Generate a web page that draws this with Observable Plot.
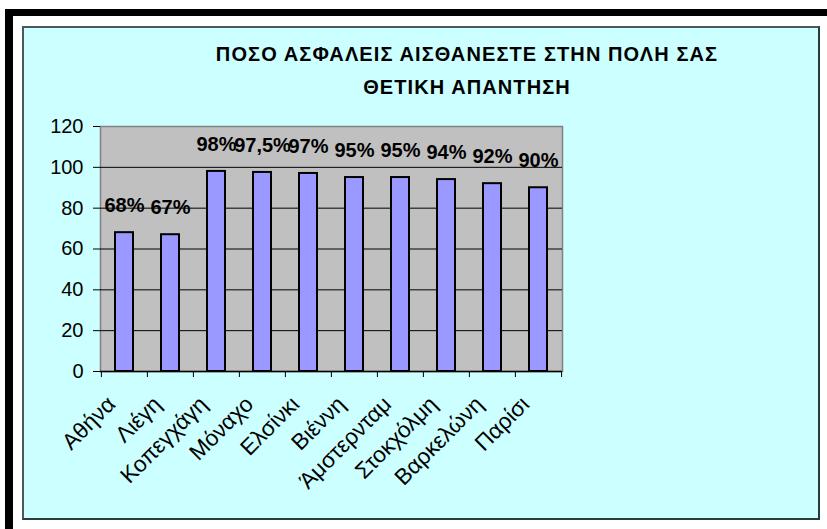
<!DOCTYPE html>
<html>
<head>
<meta charset="utf-8">
<script src="https://cdn.jsdelivr.net/npm/d3@7"></script>
<script src="https://cdn.jsdelivr.net/npm/@observablehq/plot@0.6"></script>
<style>
  html, body { margin: 0; padding: 0; background: #ffffff; }
  #page { position: relative; width: 827px; height: 529px; overflow: hidden; font-family: "Liberation Sans", Arial, sans-serif; }
  .bar { position: absolute; background: #000; }
  #panel { position: absolute; left: 22px; top: 26px; width: 794px; height: 490px; background: #ccffff; border: 2px solid #2b3a3a; border-top-color: #4a5a5a; border-left-color: #4a5a5a; }
  #title { position: absolute; left: 167px; width: 600px; top: 38px; text-align: center; font-weight: bold; font-size: 20px; letter-spacing: 1.1px; line-height: 33px; color: #000; }
  #chart { position: absolute; left: 0; top: 100px; }
</style>
</head>
<body>
<div id="page">
  <div class="bar" style="left:5px;top:9px;width:822px;height:7px"></div>
  <div class="bar" style="left:5px;top:9px;width:8px;height:520px"></div>
  <div id="panel"></div>
  <div id="title">ΠΟΣΟ ΑΣΦΑΛΕΙΣ ΑΙΣΘΑΝΕΣΤΕ ΣΤΗΝ ΠΟΛΗ ΣΑΣ<br>ΘΕΤΙΚΗ ΑΠΑΝΤΗΣΗ</div>
  <div id="chart"></div>
</div>
<script>
// Share of residents who feel safe in their city (positive answers, %)
const cities = ["Αθήνα", "Λιέγη", "Κοπεγχάγη", "Μόναχο", "Ελσίνκι", "Βιέννη", "Άμστερνταμ", "Στοκχόλμη", "Βαρκελώνη", "Παρίσι"];
const values = [68, 67, 98, 97.5, 97, 95, 95, 94, 92, 90];
const yTicks = [0, 20, 40, 60, 80, 100, 120];

const data = cities.map((city, i) => ({city, value: values[i]}));
const pct = v => String(v).replace(".", ",") + "%";

const width = 827, height = 410;
const marginLeft = 100, marginRight = 265, marginTop = 26, marginBottom = 139;
const step = (width - marginLeft - marginRight) / cities.length;

const chart = Plot.plot({
  width, height, marginLeft, marginRight, marginTop, marginBottom,
  style: {background: "transparent", fontFamily: "'Liberation Sans', Arial, sans-serif", color: "#000"},
  x: {domain: cities, paddingInner: 0.61, paddingOuter: 0.305, label: null},
  y: {domain: [0, 120], label: null},
  marks: [
    Plot.frame({fill: "#c0c0c0", stroke: "#808080", strokeWidth: 1.5}),
    Plot.gridY([20, 40, 60, 80, 100], {stroke: "#000", strokeOpacity: 1, strokeWidth: 1}),
    Plot.barY(data, {x: "city", y: "value", fill: "#9999ff", stroke: "#000", strokeWidth: 2}),
    Plot.ruleY([0], {stroke: "#000", strokeWidth: 1.5}),
    Plot.axisY({ticks: yTicks, tickSize: 7, tickPadding: 10, fontSize: 20, line: true, stroke: "#000", label: null}),
    // category boundary ticks
    Plot.axisX({tickSize: 6, dx: -step / 2, tickFormat: () => "", label: null, stroke: "#000"}),
    Plot.axisX([cities[cities.length - 1]], {tickSize: 6, dx: step / 2, tickFormat: () => "", label: null, stroke: "#000"}),
    Plot.axisX({tickSize: 0, tickPadding: 8, tickRotate: -45, fontSize: 22.5, dx: -13, dy: 21, label: null}),
    Plot.text(data, {x: "city", y: "value", text: d => pct(d.value), dy: -27, fontSize: 20, fontWeight: "bold", fill: "#000"})
  ]
});
document.getElementById("chart").appendChild(chart);
</script>
</body>
</html>
